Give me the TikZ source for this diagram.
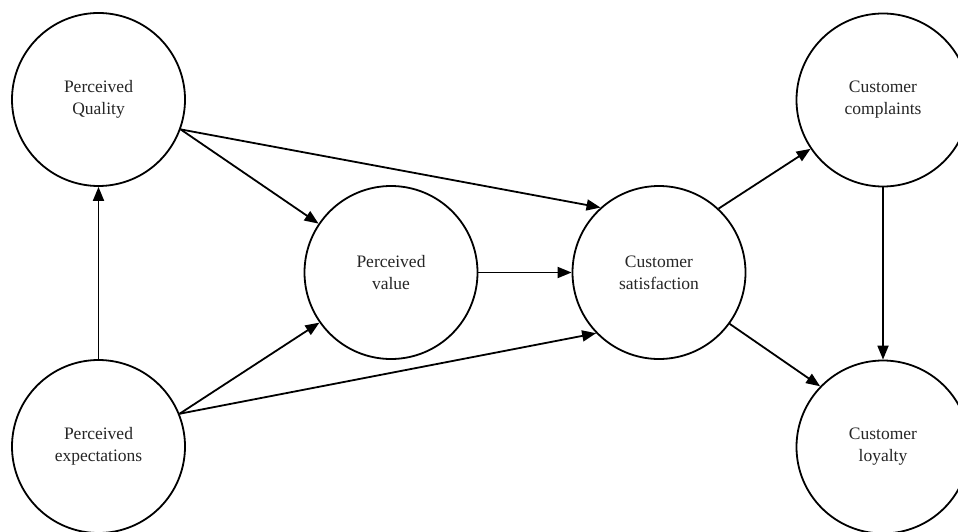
\documentclass[tikz,border=0pt]{standalone}
\usepackage{fontspec}
\setmainfont{Liberation Serif}
\usetikzlibrary{arrows.meta}
\tikzset{
  concept/.style={draw, circle, line width=1.8pt, minimum size=173pt, inner sep=0pt,
    align=center, font=\fontsize{17.5pt}{22pt}\selectfont, text=black!85},
  link/.style={line width=1.8pt, -{Triangle[length=14pt,width=11pt]}}
}
\begin{document}
\begin{tikzpicture}[x=1pt,y=-1pt]
\useasboundingbox (0,0) rectangle (958,532);
\fill[white] (0,0) rectangle (958,532);
\clip (0,0) rectangle (958,532);
\node[concept] (pq) at (98.5,99.5) {Perceived\\Quality};
\node[concept] (pe) at (98.5,446.5) {Perceived\\expectations};
\node[concept] (pv) at (391,272.5) {Perceived\\value};
\node[concept] (cs) at (659,272.5) {Customer\\satisfaction};
\node[concept] (cc) at (883,100) {Customer\\complaints};
\node[concept] (cl) at (883,447) {Customer\\loyalty};
\draw[link] (pe.north) -- (pq.south);
\draw[link] (pq.-20) -- (pv.146);
\draw[link] (pq.-20) -- (cs.132);
\draw[link] (pe.22) -- (pv.215);
\draw[link] (pe.22) -- (cs.224);
\draw[link] (pv.east) -- (cs.west);
\draw[link] (cs.47) -- (cc.214);
\draw[link] (cs.-36) -- (cl.136);
\draw[link] (cc.south) -- (cl.north);
\end{tikzpicture}
\end{document}
